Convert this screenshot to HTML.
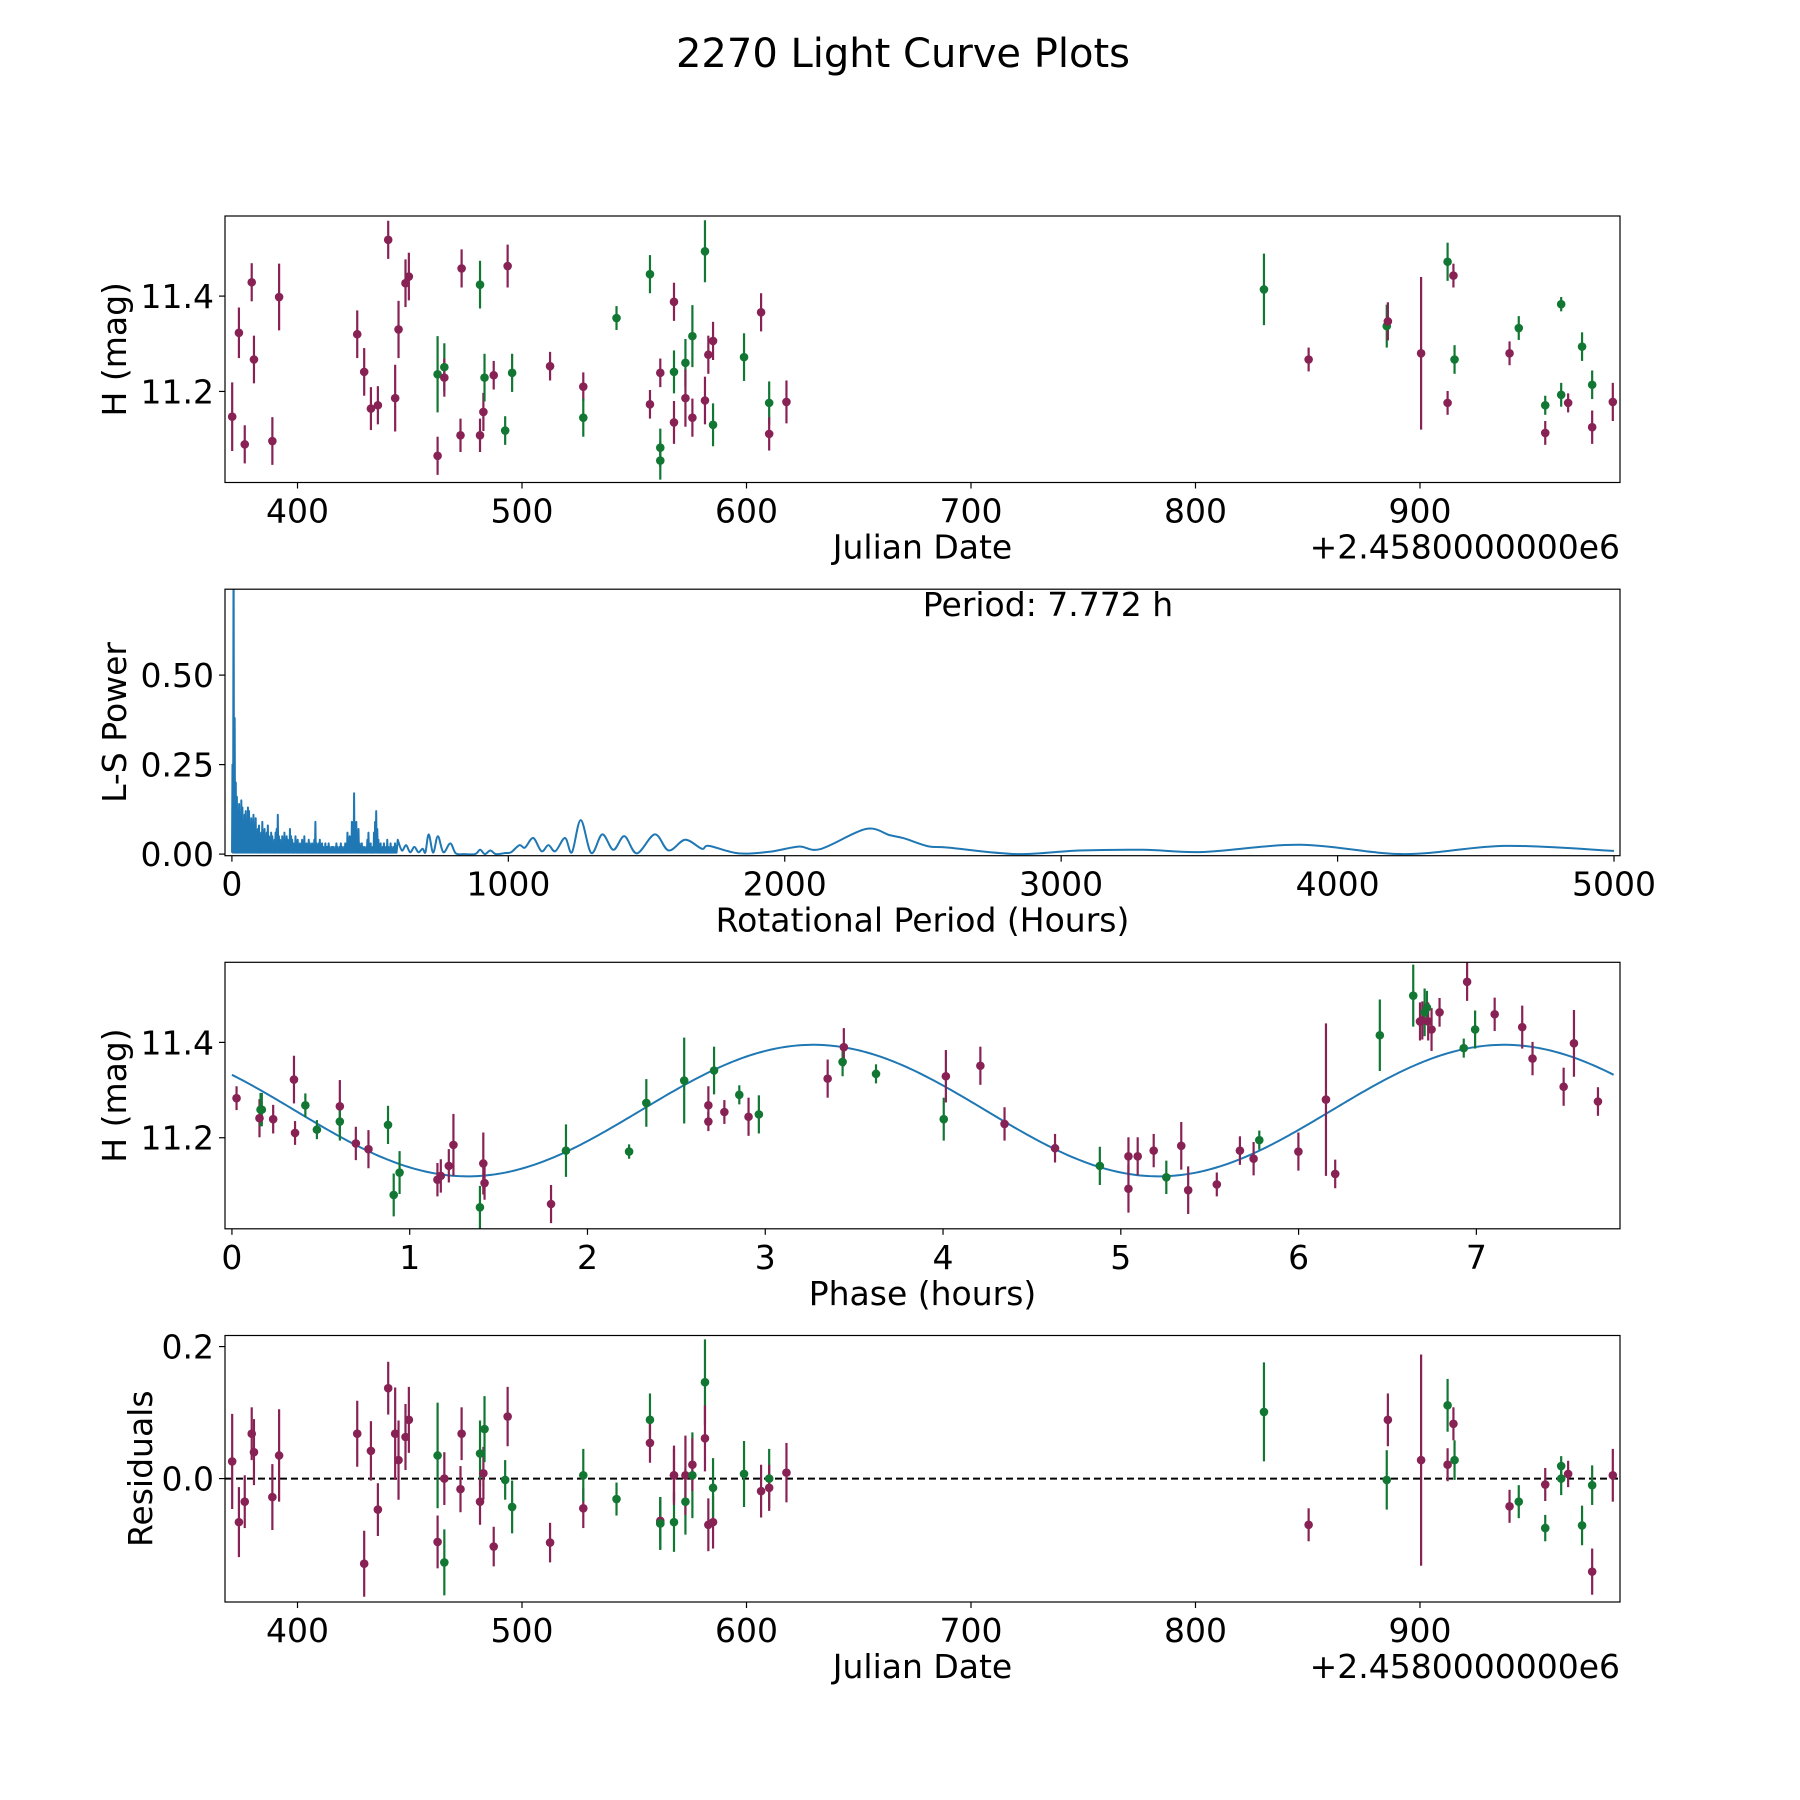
<!DOCTYPE html>
<html><head><meta charset="utf-8"><style>
html,body{margin:0;padding:0;background:#fff;}
svg{display:block;font-family:"DejaVu Sans","Liberation Sans",sans-serif;}
</style></head><body>
<svg id="fig" width="1800" height="1800" viewBox="0 0 1800 1800" xmlns="http://www.w3.org/2000/svg">
<rect width="1800" height="1800" fill="#fff"/>
<text x="903" y="67" font-size="40" text-anchor="middle">2270 Light Curve Plots</text>
</svg>
<script>
// ---- data: light curve (Julian date offset, H mag, error, filter) ----
const jd = [370.9,373.9,376.5,379.6,380.6,388.8,391.8,426.6,429.7,432.7,435.8,440.4,443.5,445.0,448.1,449.6,462.4,462.4,465.4,465.4,472.6,473.1,481.3,481.3,482.8,483.3,487.4,492.5,493.6,495.6,512.5,527.3,527.3,542.1,557.0,557.0,561.6,561.6,561.6,567.7,567.7,567.7,572.8,572.8,575.9,575.9,581.5,581.5,583.0,585.1,585.1,598.9,606.5,610.1,610.1,617.8,830.5,850.4,885.2,885.7,900.5,912.3,912.3,914.9,915.4,939.9,944.0,955.8,955.8,962.9,962.9,966.0,972.2,976.7,976.7,985.9];
const hmag = [11.147,11.323,11.089,11.429,11.267,11.096,11.398,11.320,11.241,11.164,11.171,11.518,11.186,11.330,11.427,11.441,11.236,11.065,11.251,11.229,11.108,11.458,11.424,11.108,11.157,11.229,11.234,11.118,11.463,11.239,11.253,11.210,11.145,11.354,11.446,11.173,11.239,11.082,11.055,11.388,11.241,11.135,11.260,11.186,11.316,11.145,11.494,11.181,11.277,11.306,11.130,11.272,11.366,11.176,11.111,11.178,11.414,11.267,11.337,11.347,11.280,11.472,11.176,11.443,11.267,11.280,11.333,11.171,11.113,11.383,11.193,11.176,11.294,11.214,11.125,11.178];
const herr = [0.072,0.053,0.04,0.04,0.05,0.05,0.07,0.05,0.05,0.045,0.04,0.04,0.07,0.06,0.05,0.05,0.08,0.04,0.05,0.04,0.035,0.04,0.05,0.035,0.04,0.05,0.03,0.03,0.045,0.04,0.03,0.03,0.04,0.025,0.04,0.03,0.03,0.04,0.04,0.04,0.045,0.045,0.05,0.06,0.065,0.04,0.065,0.05,0.04,0.04,0.045,0.05,0.04,0.045,0.035,0.045,0.075,0.025,0.045,0.04,0.16,0.04,0.025,0.025,0.03,0.025,0.025,0.02,0.025,0.015,0.025,0.02,0.03,0.03,0.035,0.04];
const band = ["m","m","m","m","m","m","m","m","m","m","m","m","m","m","m","m","g","m","g","m","m","m","g","m","m","g","m","g","m","g","m","m","g","g","g","m","m","g","g","m","g","m","g","m","g","m","g","m","m","m","g","g","m","g","m","m","g","m","g","m","m","g","m","m","g","m","g","g","m","g","g","m","g","g","m","m"];
const resid = [0.026,-0.066,-0.035,0.068,0.040,-0.028,0.035,0.068,-0.129,0.042,-0.047,0.137,0.068,0.028,0.063,0.089,0.035,-0.096,-0.127,0.0,-0.016,0.068,0.038,-0.035,0.008,0.075,-0.103,-0.002,0.094,-0.043,-0.097,-0.045,0.005,-0.031,0.089,0.054,-0.064,-0.068,-0.068,0.005,-0.066,0.005,-0.035,0.005,0.005,0.021,0.146,0.061,-0.070,-0.066,-0.014,0.007,-0.019,0.0,-0.014,0.009,0.101,-0.070,-0.002,0.089,0.028,0.111,0.021,0.083,0.028,-0.042,-0.035,-0.075,-0.009,0.019,0.0,0.007,-0.071,-0.010,-0.141,0.005];
// ---- phase-folded data ----
const phase = [0.026,0.155,0.161,0.168,0.232,0.349,0.355,0.413,0.478,0.607,0.607,0.697,0.768,0.878,0.910,0.943,1.156,1.175,1.220,1.246,1.395,1.414,1.421,1.795,1.879,2.234,2.331,2.544,2.680,2.680,2.712,2.770,2.854,2.906,2.964,3.351,3.435,3.442,3.623,4.004,4.016,4.210,4.346,4.630,4.882,5.043,5.043,5.095,5.185,5.256,5.340,5.379,5.540,5.670,5.747,5.779,5.999,6.154,6.206,6.457,6.645,6.683,6.696,6.709,6.722,6.729,6.748,6.793,6.948,6.929,6.993,7.103,7.258,7.316,7.491,7.549,7.684];
const phaseMag = [11.283,11.241,11.259,11.259,11.239,11.322,11.210,11.268,11.217,11.266,11.234,11.188,11.176,11.227,11.080,11.127,11.112,11.120,11.141,11.185,11.054,11.146,11.105,11.061,11.173,11.171,11.273,11.320,11.234,11.268,11.341,11.254,11.290,11.244,11.249,11.324,11.359,11.390,11.334,11.239,11.329,11.351,11.229,11.178,11.141,11.161,11.093,11.161,11.173,11.117,11.183,11.090,11.102,11.173,11.156,11.195,11.171,11.280,11.124,11.415,11.498,11.444,11.446,11.463,11.473,11.444,11.427,11.463,11.527,11.388,11.427,11.459,11.432,11.366,11.307,11.398,11.276];
const phaseErr = [0.025,0.04,0.035,0.035,0.03,0.05,0.025,0.025,0.02,0.055,0.04,0.035,0.04,0.04,0.045,0.045,0.035,0.035,0.035,0.065,0.045,0.065,0.035,0.04,0.055,0.015,0.05,0.09,0.02,0.04,0.05,0.025,0.02,0.04,0.04,0.04,0.03,0.04,0.02,0.045,0.055,0.04,0.035,0.03,0.04,0.04,0.05,0.04,0.035,0.035,0.05,0.05,0.025,0.03,0.035,0.02,0.04,0.16,0.03,0.075,0.065,0.04,0.04,0.05,0.035,0.04,0.045,0.03,0.04,0.02,0.04,0.035,0.045,0.035,0.04,0.07,0.03];
const phaseBand = ["m","m","g","g","m","m","m","g","g","m","g","m","m","g","g","g","m","m","m","m","g","m","m","m","g","g","g","g","m","m","g","m","g","m","g","m","g","m","g","g","m","m","m","m","g","m","m","m","m","g","m","m","m","m","m","g","m","m","m","g","g","m","m","g","g","m","m","m","m","g","g","m","m","m","m","m","m"];
// ---- sinusoid fit model ----
const fitMean = [11.257];
const fitAmp = [0.138];
const fitPeriod = [3.886];
const fitPeak = [3.27];
// ---- periodogram ----
const noiseStart = 2, noiseStep = 4;
const noisePower = [0.25,0.95,0.38,0.20,0.16,0.12,0.14,0.10,0.15,0.13,0.09,0.11,0.12,0.08,0.13,0.12,0.07,0.10,0.09,0.11,0.06,0.10,0.05,0.07,0.08,0.04,0.06,0.09,0.05,0.07,0.04,0.06,0.08,0.05,0.04,0.06,0.05,0.03,0.04,0.06,0.07,0.11,0.05,0.04,0.03,0.05,0.04,0.06,0.03,0.05,0.04,0.03,0.07,0.05,0.04,0.03,0.02,0.05,0.03,0.04,0.02,0.03,0.02,0.04,0.03,0.05,0.02,0.03,0.02,0.04,0.03,0.02,0.03,0.02,0.04,0.09,0.03,0.02,0.03,0.04,0.02,0.03,0.02,0.01,0.03,0.02,0.02,0.03,0.02,0.01,0.02,0.02,0.01,0.02,0.03,0.02,0.01,0.02,0.03,0.02,0.01,0.02,0.03,0.02,0.06,0.04,0.05,0.03,0.09,0.06,0.17,0.05,0.09,0.04,0.07,0.03,0.02,0.03,0.01,0.02,0.01,0.02,0.04,0.06,0.02,0.03,0.01,0.02,0.06,0.09,0.12,0.07,0.04,0.02,0.03,0.01,0.02,0.03,0.01,0.02,0.04,0.02,0.01,0.03,0.02,0.01,0.02,0.03,0.02];
const smoothPeriod = [600,615,630,645,660,675,690,700,712,728,745,765,790,810,840,880,898,915,935,955,990,1010,1040,1060,1090,1120,1145,1170,1205,1230,1262,1300,1340,1380,1420,1465,1530,1580,1640,1700,1726,1833,1950,2050,2129,2293,2379,2432,2518,2593,2839,3064,3299,3513,3866,4240,4604,5000];
const smoothPower = [0.04,0.01,0.025,0.005,0.02,0.005,0.015,0.005,0.055,0.004,0.05,0.005,0.03,0.002,0.0,0.0,0.012,0.0,0.01,0.0,0.003,0.005,0.025,0.018,0.045,0.008,0.025,0.008,0.045,0.005,0.095,0.003,0.055,0.012,0.05,0.002,0.055,0.01,0.04,0.015,0.023,0.002,0.007,0.021,0.014,0.070,0.053,0.044,0.022,0.018,0.0,0.010,0.012,0.006,0.026,0.0,0.023,0.009];
// ---- ticks ----
const jdTicks = [400,500,600,700,800,900];
const magTicks = [11.2,11.4];
const perTicks = [0,1000,2000,3000,4000,5000];
const powTicks = [0,0.25,0.5];
const phaseTicks = [0,1,2,3,4,5,6,7];
const resTicks = [0,0.2];

const NS='http://www.w3.org/2000/svg';
const svg=document.getElementById('fig');
const C={m:'#882255',g:'#117733'};
const FS=33;
function mk(tag,attrs,parent){const e=document.createElementNS(NS,tag);for(const k in attrs)e.setAttribute(k,attrs[k]);(parent||svg).appendChild(e);return e;}
const L=225,R=1620;
function lin(d0,d1,r0,r1){return v=>r0+(v-d0)/(d1-d0)*(r1-r0);}

function panel(name,top,bot,xd,yd,xticks,yticks,xfmt,yfmt,xlabel,ylabel,ylabX,offset){
  const g=mk('g',{});
  
  
  const x=lin(xd[0],xd[1],L,R), y=lin(yd[0],yd[1],bot,top);
  const cp=mk('clipPath',{id:'clip-'+name},g);mk('rect',{x:L,y:top,width:R-L,height:bot-top},cp);
  const plot=mk('g',{'clip-path':'url(#clip-'+name+')'},g);
  
  
  xticks.forEach(t=>{const px=x(t);
    const tk=mk('line',{x1:px,x2:px,y1:bot,y2:bot+6,stroke:'#000','stroke-width':1.2},g);
    
    
    const tl=mk('text',{x:px,y:bot+40,'font-size':FS,'text-anchor':'middle'},g);tl.textContent=xfmt(t);
    
    });
  yticks.forEach(t=>{const py=y(t);
    const tk=mk('line',{x1:L-6,x2:L,y1:py,y2:py,stroke:'#000','stroke-width':1.2},g);
    
    
    const tl=mk('text',{x:L-11,y:py+12,'font-size':FS,'text-anchor':'end'},g);tl.textContent=yfmt(t);
    
    });
  const xl=mk('text',{x:(L+R)/2,y:bot+76,'font-size':FS,'text-anchor':'middle'},g);xl.textContent=xlabel;
  
  
  if(offset){const o=mk('text',{x:R,y:bot+76,'font-size':FS,'text-anchor':'end'},g);o.textContent=offset;
    
    }
  const cy=(top+bot)/2;
  const yl=mk('text',{x:ylabX,y:cy,'font-size':FS,'text-anchor':'middle',transform:`rotate(-90 ${ylabX} ${cy})`,dy:12},g);yl.textContent=ylabel;
  
  
  const fr=mk('rect',{x:L,y:top,width:R-L,height:bot-top,fill:'none',stroke:'#000','stroke-width':1.2},g);
  
  
  return {x,y,plot};
}
function errpts(P,xs,ys,es,bs,nm){
  xs.forEach((v,i)=>{const c=C[bs[i]];
    const l=mk('line',{x1:P.x(v),x2:P.x(v),y1:P.y(ys[i]-es[i]),y2:P.y(ys[i]+es[i]),stroke:c,'stroke-width':2.2},P.plot);
    
    });
  xs.forEach((v,i)=>{const c=C[bs[i]];
    const d=mk('circle',{cx:P.x(v),cy:P.y(ys[i]),r:4.3,fill:c},P.plot);
    
    });
}
const f1=v=>v.toFixed(1), f2=v=>v.toFixed(2), f0=v=>String(v);
const magDom=[11.009,11.568];
// Panel 1
const P1=panel('light-curve-panel',216,482.5,[367.7,989.1],magDom,jdTicks,magTicks,f0,f1,'Julian Date','H (mag)',114,'+2.4580000000e6');
errpts(P1,jd,hmag,herr,band,'observation');
// Panel 2
const P2=panel('periodogram-panel',589.2,855.7,[-25,5021.7],[-0.0045,0.74],perTicks,powTicks,f0,f2,'Rotational Period (Hours)','L-S Power',114,null);
let d='';
noisePower.forEach((p,i)=>{const per=noiseStart+i*noiseStep;
  d+=(i?'L':'M')+P2.x(per-1.6)+','+P2.y(0.004)+'L'+P2.x(per)+','+P2.y(p)+'L'+P2.x(per+1.6)+','+P2.y(0.004);});
const pts=smoothPeriod.map((p,i)=>[P2.x(p),P2.y(smoothPower[i])]);
d+='L'+pts[0][0]+','+pts[0][1];
for(let i=0;i<pts.length-1;i++){const p0=pts[Math.max(0,i-1)],p1=pts[i],p2=pts[i+1],p3=pts[Math.min(pts.length-1,i+2)];
  d+='C'+(p1[0]+(p2[0]-p0[0])/6)+','+(p1[1]+(p2[1]-p0[1])/6)+' '+(p2[0]-(p3[0]-p1[0])/6)+','+(p2[1]-(p3[1]-p1[1])/6)+' '+p2[0]+','+p2[1];}
const pl=mk('path',{d:d,fill:'none',stroke:'#1f77b4','stroke-width':2,'stroke-linejoin':'round'},P2.plot);


const ann=mk('text',{x:1048,y:616,'font-size':FS,'text-anchor':'middle'});ann.textContent='Period: 7.772 h';


// Panel 3
const P3=panel('phase-folded-panel',962.3,1228.8,[-0.039,7.808],magDom,phaseTicks,magTicks,f0,f1,'Phase (hours)','H (mag)',114,null);
let fd='';
for(let k=0;k<=400;k++){const ph=7.772*k/400;const h=fitMean[0]+fitAmp[0]*Math.cos(2*Math.PI*(ph-fitPeak[0])/fitPeriod[0]);fd+=(k?'L':'M')+P3.x(ph)+','+P3.y(h);}
const fl=mk('path',{d:fd,fill:'none',stroke:'#1f77b4','stroke-width':2},P3.plot);


errpts(P3,phase,phaseMag,phaseErr,phaseBand,'folded');
// Panel 4
const P4=panel('residuals-panel',1335.5,1602,[367.7,989.1],[-0.187,0.2168],jdTicks,resTicks,f0,f1,'Julian Date','Residuals',140,'+2.4580000000e6');
const zl=mk('line',{x1:L,x2:R,y1:P4.y(0),y2:P4.y(0),stroke:'#000','stroke-width':2,'stroke-dasharray':'7,4'},P4.plot);


errpts(P4,jd,resid,herr,band,'residual');
</script>
</body></html>
